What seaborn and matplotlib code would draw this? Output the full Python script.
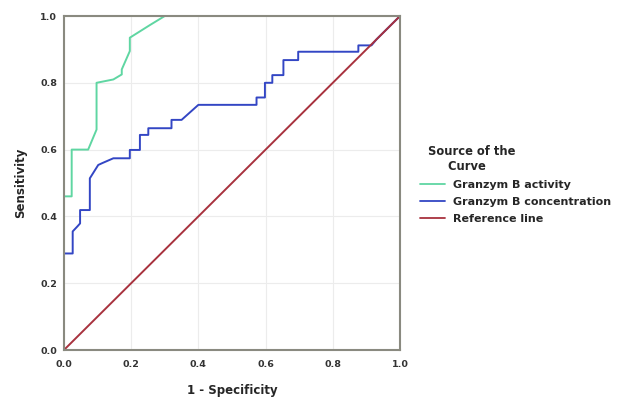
import numpy as np
import pandas as pd
import matplotlib
matplotlib.use("Agg")
import matplotlib.pyplot as plt
import seaborn as sns

# ROC curve: Granzym B activity
activity_fpr = [0.0, 0.0, 0.023, 0.023, 0.072, 0.097, 0.097, 0.147, 0.172, 0.172, 0.196, 0.196, 0.256, 0.30, 1.0]
activity_tpr = [0.0, 0.46, 0.46, 0.60, 0.60, 0.66, 0.80, 0.81, 0.825, 0.84, 0.895, 0.935, 0.973, 1.0, 1.0]

# ROC curve: Granzym B concentration
conc_fpr = [0.0, 0.0, 0.026, 0.026, 0.040, 0.048, 0.048, 0.077, 0.077, 0.102, 0.115, 0.147, 0.196, 0.196,
            0.226, 0.226, 0.251, 0.251, 0.32, 0.32, 0.35, 0.40, 0.573, 0.573, 0.598, 0.598, 0.62,
            0.62, 0.653, 0.653, 0.697, 0.697, 0.876, 0.876, 0.915, 0.93, 1.0]
conc_tpr = [0.0, 0.289, 0.289, 0.355, 0.37, 0.379, 0.419, 0.419, 0.514, 0.554, 0.56, 0.574, 0.574, 0.599,
            0.599, 0.644, 0.644, 0.664, 0.664, 0.689, 0.689, 0.734, 0.734, 0.756, 0.756, 0.80, 0.80,
            0.823, 0.823, 0.868, 0.868, 0.893, 0.893, 0.912, 0.912, 0.93, 1.0]

# Reference line
ref_fpr = [0.0, 1.0]
ref_tpr = [0.0, 1.0]

series_names = ["Granzym B activity", "Granzym B concentration", "Reference line"]
colors = ["#5fd6a2", "#3346c4", "#a8323e"]

frames = []
for name, xs, ys in zip(series_names,
                        [activity_fpr, conc_fpr, ref_fpr],
                        [activity_tpr, conc_tpr, ref_tpr]):
    frames.append(pd.DataFrame({"fpr": xs, "tpr": ys, "curve": name, "order": range(len(xs))}))
df = pd.concat(frames, ignore_index=True)

sns.set_style("white")
plt.rcParams['font.family'] = ['DejaVu Sans']

fig = plt.figure(figsize=(6.27, 4.0), dpi=100)
ax = fig.add_axes([0.102, 0.125, 0.536, 0.835])

sns.lineplot(data=df, x="fpr", y="tpr", hue="curve", hue_order=series_names,
             palette=dict(zip(series_names, colors)), sort=False, estimator=None,
             units="curve", linewidth=1.4, ax=ax)

ax.set_xlim(0, 1)
ax.set_ylim(0, 1)
ticks = [0.0, 0.2, 0.4, 0.6, 0.8, 1.0]
tick_labels = ["0.0", "0.2", "0.4", "0.6", "0.8", "1.0"]
ax.set_xticks(ticks)
ax.set_yticks(ticks)
ax.set_xticklabels(tick_labels, fontsize=6.8, fontweight="bold", color="#333333")
ax.set_yticklabels(tick_labels, fontsize=6.8, fontweight="bold", color="#333333")
ax.tick_params(axis="x", length=0, pad=7)
ax.tick_params(axis="y", length=0, pad=5)
ax.grid(True, color="#ececec", linewidth=0.8)
ax.set_axisbelow(True)
for s in ax.spines.values():
    s.set_visible(True)
    s.set_color("#8a8a80")
    s.set_linewidth(1.5)

ax.set_xlabel("1 - Specificity", fontsize=8.5, fontweight="bold", labelpad=11)
ax.set_ylabel("Sensitivity", fontsize=8.5, fontweight="bold", labelpad=9)

leg = ax.legend(title="  Source of the\n       Curve", loc="upper left",
                bbox_to_anchor=(420 / 627, 1 - 145 / 400), bbox_transform=fig.transFigure,
                borderaxespad=0, borderpad=0,
                frameon=False, handlelength=2.25, handletextpad=0.7, labelspacing=0.62,
                prop={"size": 8, "weight": "bold"})
leg.get_title().set_fontweight("bold")
leg.get_title().set_fontsize(8.3)
leg._legend_box.align = "left"
for line in leg.get_lines():
    line.set_linewidth(1.3)

fig.savefig("out.png", dpi=100, facecolor="white")
